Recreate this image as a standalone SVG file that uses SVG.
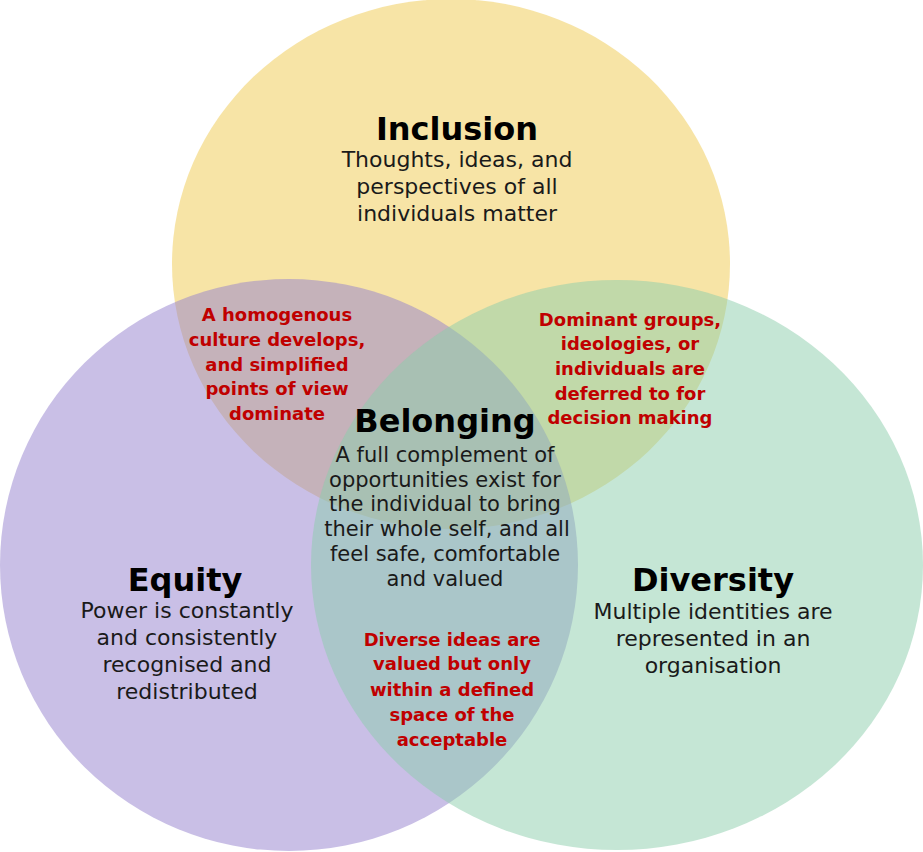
<svg xmlns="http://www.w3.org/2000/svg" width="923" height="852" viewBox="0 0 923 852">
<style>
.title{font-family:"DejaVu Sans",sans-serif;font-weight:bold;font-size:32px;fill:#000;text-anchor:middle}
.body{font-family:"DejaVu Sans",sans-serif;font-size:22px;fill:#1a1a1a;text-anchor:middle}
.bel{font-family:"DejaVu Sans",sans-serif;font-size:21px;fill:#1a1a1a;text-anchor:middle}
.red{font-family:"DejaVu Sans",sans-serif;font-weight:bold;font-size:18px;fill:#C00000;text-anchor:middle}
</style>
<rect width="923" height="852" fill="#fff"/>
<g id="inclusion">
<ellipse cx="451" cy="264" rx="279" ry="265" fill="#EFC94D" fill-opacity="0.5"/>
</g>
<g id="equity">
<ellipse cx="289" cy="565" rx="289" ry="286" fill="#937FCD" fill-opacity="0.5"/>
</g>
<g id="diversity">
<ellipse cx="617" cy="565" rx="306" ry="285" fill="#8BCDAB" fill-opacity="0.5"/>
</g>
<g id="inclusion-text">
<text class="title" x="457" y="140">Inclusion</text>
<text class="body" x="457" y="167">Thoughts, ideas, and</text>
<text class="body" x="457" y="194">perspectives of all</text>
<text class="body" x="457" y="221">individuals matter</text>
</g>
<g id="equity-text">
<text class="title" x="185" y="591">Equity</text>
<text class="body" x="187" y="618">Power is constantly</text>
<text class="body" x="187" y="645">and consistently</text>
<text class="body" x="187" y="672">recognised and</text>
<text class="body" x="187" y="699">redistributed</text>
</g>
<g id="diversity-text">
<text class="title" x="713" y="591">Diversity</text>
<text class="body" x="713" y="619">Multiple identities are</text>
<text class="body" x="713" y="646">represented in an</text>
<text class="body" x="713" y="673">organisation</text>
</g>
<g id="belonging">
<text class="title" x="445" y="432">Belonging</text>
<text class="bel" x="445" y="462">A full complement of</text>
<text class="bel" x="445" y="487">opportunities exist for</text>
<text class="bel" x="445" y="511">the individual to bring</text>
<text class="bel" x="447" y="536">their whole self, and all</text>
<text class="bel" x="445" y="561">feel safe, comfortable</text>
<text class="bel" x="445" y="586">and valued</text>
</g>
<g id="inclusion-equity">
<text class="red" x="277" y="321">A homogenous</text>
<text class="red" x="277" y="346">culture develops,</text>
<text class="red" x="277" y="371">and simplified</text>
<text class="red" x="277" y="395">points of view</text>
<text class="red" x="277" y="420">dominate</text>
</g>
<g id="inclusion-diversity">
<text class="red" x="630" y="326">Dominant groups,</text>
<text class="red" x="630" y="350">ideologies, or</text>
<text class="red" x="630" y="375">individuals are</text>
<text class="red" x="630" y="400">deferred to for</text>
<text class="red" x="630" y="424">decision making</text>
</g>
<g id="equity-diversity">
<text class="red" x="452" y="646">Diverse ideas are</text>
<text class="red" x="452" y="670">valued but only</text>
<text class="red" x="452" y="696">within a defined</text>
<text class="red" x="452" y="721">space of the</text>
<text class="red" x="452" y="746">acceptable</text>
</g>
<g id="connectors"></g>
</svg>
